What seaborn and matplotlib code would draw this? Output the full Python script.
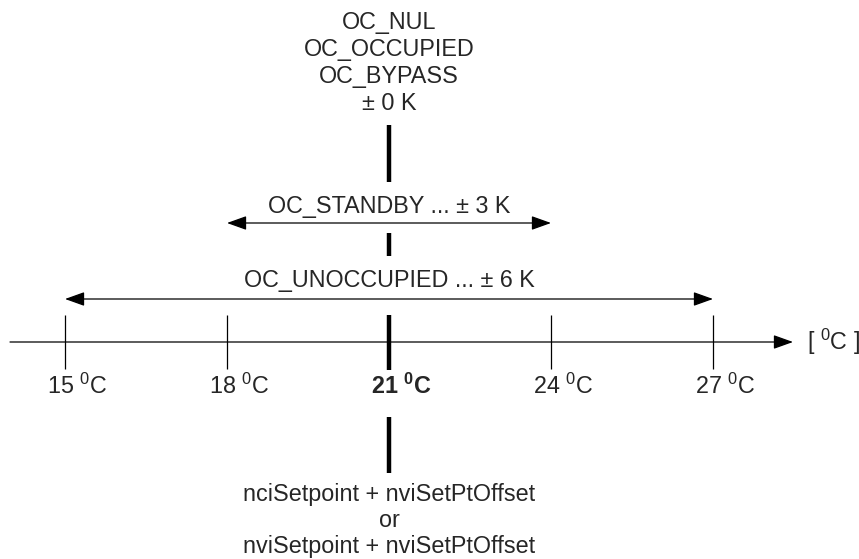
import matplotlib
matplotlib.use("Agg")
import matplotlib.pyplot as plt
import seaborn as sns

# setpoint scale in degC
ticks = [15, 18, 21, 24, 27]
tick_labels = ["15 $^0$C", "18 $^0$C", "$\\mathbf{21\\ ^0C}$", "24 $^0$C", "27 $^0$C"]
setpoint = 21
standby_offset = 3
unoccupied_offset = 6
top_lines = ["OC_NUL", "OC_OCCUPIED", "OC_BYPASS", "± 0 K"]
bottom_lines = ["nciSetpoint + nviSetPtOffset", "or", "nviSetpoint + nviSetPtOffset"]
standby_label = "OC_STANDBY ... ± 3 K"
unoccupied_label = "OC_UNOCCUPIED ... ± 6 K"
unit_label = "[ $^0$C ]"

sns.set_theme(style="white")
plt.rcParams["font.family"] = ["Liberation Sans", "DejaVu Sans"]
plt.rcParams["mathtext.fontset"] = "custom"
plt.rcParams["mathtext.rm"] = "Liberation Sans"
plt.rcParams["mathtext.it"] = "Liberation Sans"
plt.rcParams["mathtext.bf"] = "Liberation Sans:bold"

FS = 16.8
px = 54.0  # pixels per degree
fig = plt.figure(figsize=(8.59, 5.59), dpi=100)
ax = fig.add_axes([0, 0, 1, 1])
ax.set_xlim(setpoint - 389 / px, setpoint + 470 / px)
ax.set_ylim(559, 0)
ax.axis("off")

arrow = dict(arrowstyle="-|>,head_length=12,head_width=4.3", mutation_scale=1,
             color="black", lw=0.9, shrinkA=0, shrinkB=0)
both = dict(arrow, arrowstyle="<|-|>,head_length=12,head_width=4.3")

# main axis
y_axis = 342
ax.annotate("", xy=(setpoint + 404 / px, y_axis), xytext=(setpoint - 379 / px, y_axis),
            arrowprops=arrow)
ax.text(setpoint + 418 / px, y_axis, unit_label, fontsize=FS, va="center", ha="left")

# ticks
for t, lab in zip(ticks, tick_labels):
    if t != setpoint:
        ax.vlines(t, 315, 369, color="black", lw=0.9)
    ax.annotate(lab, xy=(t, 386), xytext=(8.8, 0), textcoords="offset points",
                ha="center", va="center", fontsize=FS)

# thick setpoint marker
ax.vlines([setpoint] * 4, [125, 233, 315, 417], [182, 256, 370, 473],
          color="black", lw=3.2)

# standby and unoccupied ranges
ax.annotate("", xy=(setpoint + standby_offset, 223), xytext=(setpoint - standby_offset, 223),
            arrowprops=both)
ax.text(setpoint, 206, standby_label, ha="center", va="center", fontsize=FS)
ax.annotate("", xy=(setpoint + unoccupied_offset, 299),
            xytext=(setpoint - unoccupied_offset, 299), arrowprops=both)
ax.text(setpoint, 281, unoccupied_label, ha="center", va="center", fontsize=FS)

for i, line in enumerate(top_lines):
    ax.text(setpoint, 22 + i * 27.3, line, ha="center", va="center", fontsize=FS)
for i, line in enumerate(bottom_lines):
    ax.text(setpoint, 494 + i * 26.5, line, ha="center", va="center", fontsize=FS)

fig.savefig("out.png", dpi=100)
